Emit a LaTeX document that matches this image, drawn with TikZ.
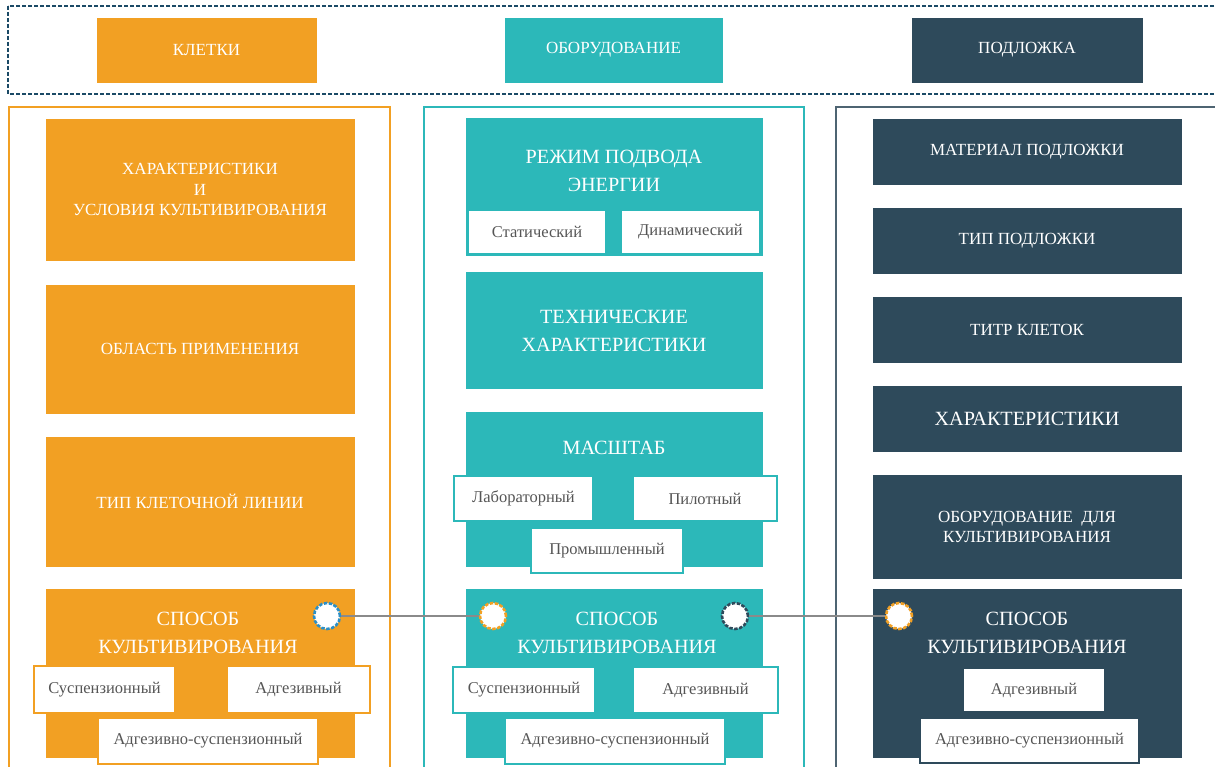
\documentclass[tikz,border=0pt]{standalone}
\usepackage{fontspec}
\setmainfont{Liberation Serif}
\definecolor{corange}{HTML}{F2A023}
\definecolor{cteal}{HTML}{2CB8B9}
\definecolor{cdark}{HTML}{2E4A5B}
\definecolor{cframe}{HTML}{4E6472}
\definecolor{cdash}{HTML}{1B4A66}
\definecolor{cblue}{HTML}{2A8FC8}
\definecolor{csubtext}{HTML}{555555}
\definecolor{cline}{HTML}{8A8A8A}
\tikzset{
  box/.style={draw=#1, fill=#1, line width=0.6pt, inner sep=0pt, text=white, align=center},
  hdr/.style={box=#1, font=\fontsize{17}{20}\selectfont},
  ttl/.style={text=white, align=center, inner sep=0pt, font=\fontsize{20.2}{28}\selectfont},
  mid/.style={text=white, align=center, inner sep=0pt, font=\fontsize{17}{20.5}\selectfont},
  sml/.style={font=\fontsize{17}{20}\selectfont},
  sub/.style={draw=#1, fill=white, line width=1.6pt, inner sep=0pt, text=csubtext, font=\fontsize{16.5}{19}\selectfont},
  frame/.style={draw=#1, line width=1.5pt},
  dot/.style={circle, fill=white, draw=#1, line width=2.6pt, dash pattern=on 3.5pt off 1.5pt, minimum size=26pt, inner sep=0pt},
  conn/.style={draw=cline, line width=2pt}
}
\begin{document}
\begin{tikzpicture}[x=1pt,y=-1pt]
\useasboundingbox (0,0) rectangle (1215,767);
\clip (0,0) rectangle (1215,767);
% frames
\draw[cdash, line width=1.8pt, dash pattern=on 4pt off 2pt] (8,6) rectangle (1240,94);
\draw[frame=corange] (9,107) rectangle (390,790);
\draw[frame=cteal] (424,107) rectangle (804,790);
\draw[frame=cframe] (836,107) rectangle (1240,790);
% headers
\node[hdr=corange, minimum width=219pt, minimum height=64pt] (hk) at (206.5,50) {КЛЕТКИ};
\node[hdr=cteal, minimum width=217pt, minimum height=64pt] (ho) at (613.5,50) {ОБОРУДОВАНИЕ};
\node[hdr=cdark, minimum width=230pt, minimum height=64pt] (hp) at (1027,50) {ПОДЛОЖКА};
% left column
\node[box=corange, minimum width=308pt, minimum height=141pt] (l1) at (200,189.5) {};
\node[mid] (l1t) at (200,189.5) {ХАРАКТЕРИСТИКИ\\И\\УСЛОВИЯ КУЛЬТИВИРОВАНИЯ};
\node[box=corange, minimum width=308pt, minimum height=128pt, sml] (l2) at (200,349) {ОБЛАСТЬ ПРИМЕНЕНИЯ};
\node[box=corange, minimum width=308pt, minimum height=129pt, sml] (l3) at (200,501.5) {ТИП КЛЕТОЧНОЙ ЛИНИИ};
\node[box=corange, minimum width=308pt, minimum height=168pt] (l4) at (200,673) {};
\node[ttl] (l4t) at (198,633) {СПОСОБ\\КУЛЬТИВИРОВАНИЯ};
\node[sub=corange, minimum width=141pt, minimum height=47pt] (ls1) at (104.5,689.5) {Суспензионный};
\node[sub=corange, minimum width=143pt, minimum height=47pt] (ls2) at (298.5,689.5) {Адгезивный};
\node[sub=corange, minimum width=220pt, minimum height=46pt] (ls3) at (208,741) {Адгезивно-суспензионный};
% middle column
\node[box=cteal, minimum width=296pt, minimum height=137pt] (m1) at (614,186.5) {};
\node[ttl] (m1t) at (614,171) {РЕЖИМ ПОДВОДА\\ЭНЕРГИИ};
\node[sub=cteal, minimum width=138pt, minimum height=44pt] (ma1) at (537,232) {Статический};
\node[sub=cteal, minimum width=139pt, minimum height=44pt] (ma2) at (690.5,232) {Динамический};
\node[box=cteal, minimum width=296pt, minimum height=116pt] (m2) at (614,330) {};
\node[ttl] (m2t) at (614,331) {ТЕХНИЧЕСКИЕ\\ХАРАКТЕРИСТИКИ};
\node[box=cteal, minimum width=296pt, minimum height=154pt] (m3) at (614,489) {};
\node[ttl] (m3t) at (614,448) {МАСШТАБ};
\node[sub=cteal, minimum width=139pt, minimum height=45pt] (mb1) at (523.5,498.5) {Лабораторный};
\node[sub=cteal, minimum width=144pt, minimum height=45pt] (mb2) at (705,498.5) {Пилотный};
\node[sub=cteal, minimum width=152pt, minimum height=45pt] (mb3) at (607,550.5) {Промышленный};
\node[box=cteal, minimum width=296pt, minimum height=168pt] (m4) at (614,673) {};
\node[ttl] (m4t) at (617,633) {СПОСОБ\\КУЛЬТИВИРОВАНИЯ};
\node[sub=cteal, minimum width=142pt, minimum height=46pt] (mc1) at (524,690) {Суспензионный};
\node[sub=cteal, minimum width=145pt, minimum height=46pt] (mc2) at (705.5,690) {Адгезивный};
\node[sub=cteal, minimum width=220pt, minimum height=46pt] (mc3) at (615,741) {Адгезивно-суспензионный};
% right column
\node[box=cdark, minimum width=308pt, minimum height=65pt, sml] (r1) at (1027,151.5) {МАТЕРИАЛ ПОДЛОЖКИ};
\node[box=cdark, minimum width=308pt, minimum height=65pt, sml] (r2) at (1027,240.5) {ТИП ПОДЛОЖКИ};
\node[box=cdark, minimum width=308pt, minimum height=65pt, sml] (r3) at (1027,329.5) {ТИТР КЛЕТОК};
\node[box=cdark, minimum width=308pt, minimum height=65pt, font=\fontsize{20.2}{24}\selectfont] (r4) at (1027,418.5) {ХАРАКТЕРИСТИКИ};
\node[box=cdark, minimum width=308pt, minimum height=103pt] (r5) at (1027,526.5) {};
\node[mid, font=\fontsize{17}{20}\selectfont] (r5t) at (1027,527) {ОБОРУДОВАНИЕ\ \ ДЛЯ\\КУЛЬТИВИРОВАНИЯ};
\node[box=cdark, minimum width=308pt, minimum height=168pt] (r6) at (1027,673) {};
\node[ttl] (r6t) at (1027,633) {СПОСОБ\\КУЛЬТИВИРОВАНИЯ};
\node[sub=cdark, minimum width=142pt, minimum height=44pt] (rc1) at (1034,690) {Адгезивный};
\node[sub=cdark, minimum width=219pt, minimum height=45pt] (rc2) at (1029.5,740.5) {Адгезивно-суспензионный};
% connectors and dots
\node[dot=cblue] (c1) at (327,616) {};
\node[dot=corange] (c2) at (493,616) {};
\node[dot=cdark] (c3) at (735,616) {};
\node[dot=corange] (c4) at (899,616) {};
\draw[conn] (c1) -- (c2);
\draw[conn] (c3) -- (c4);
\end{tikzpicture}
\end{document}
